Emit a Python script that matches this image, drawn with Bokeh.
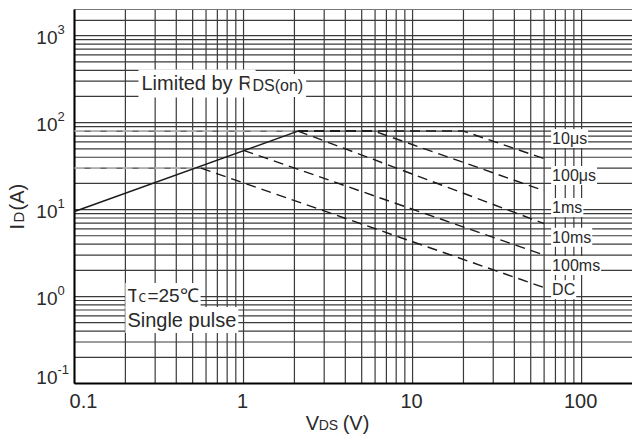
import math
from bokeh.plotting import figure
from bokeh.models import Label, Range1d
from bokeh.embed import file_html
from bokeh.resources import INLINE

# ---------------- data ----------------
# Limited by RDS(on) (solid)
rds_v = [0.1, 2.1]
rds_i = [9.5, 80.0]
# pulse / DC boundaries (dashed)
p10us_v = [2.1, 20.0, 60.0]
p10us_i = [80.0, 80.0, 38.5]
p100us_v = [2.1, 5.9, 60.0]
p100us_i = [80.0, 80.0, 16.5]
p1ms_v = [2.1, 60.0]
p1ms_i = [80.0, 6.9]
p10ms_v = [1.0, 60.0]
p10ms_i = [48.0, 3.0]
dc_v = [0.56, 60.0]
dc_i = [30.0, 1.27]
# dashed horizontal extensions to the left
ext80_v = [0.1, 2.1]
ext80_i = [80.0, 80.0]
ext30_v = [0.1, 0.56]
ext30_i = [30.0, 30.0]

curve_names = ["10μs", "100μs", "1ms", "10ms", "100ms", "DC"]
curve_name_i = [65.6, 24.7, 10.6, 4.8, 2.27, 1.2]

x_ticks = [0.1, 1, 10, 100]
x_tick_labels = ["0.1", "1", "10", "100"]
y_ticks = [0.1, 1, 10, 100, 1000]
y_tick_exps = ["-1", "0", "1", "2", "3"]

grid_mantissas = [1, 2, 3, 4, 5, 6, 7, 8, 9]
x_grid_decades = [0.1, 1, 10]
x_grid_extra = [100]
y_grid_decades = [0.1, 1, 10, 100]
y_grid_extra = [1000, 1500]

X_MIN, X_MAX = 0.1, 200.0
Y_MIN, Y_MAX = 0.1, 2000.0

# ---------------- layout (pixels) ----------------
W, H = 632, 437
LEFT, RIGHT, TOP, BOTTOM = 74, 632, 9, 383
FONT = "Liberation Sans"
TXT = "#2a2a2a"
GRID = "#3a3a3a"

xdec = (RIGHT - LEFT) / math.log10(X_MAX / X_MIN)
ydec = (BOTTOM - TOP) / math.log10(Y_MAX / Y_MIN)
x_lo = X_MIN / 10 ** (LEFT / xdec)
x_hi = X_MAX * 10 ** ((W - RIGHT) / xdec)
y_lo = Y_MIN / 10 ** ((H - BOTTOM) / ydec)
y_hi = Y_MAX * 10 ** (TOP / ydec)

x_grid = [m * d for d in x_grid_decades for m in grid_mantissas] + x_grid_extra
y_grid = [m * d for d in y_grid_decades for m in grid_mantissas] + y_grid_extra

p = figure(width=W, height=H, x_axis_type="log", y_axis_type="log",
           x_range=Range1d(x_lo, x_hi), y_range=Range1d(y_lo, y_hi),
           output_backend="svg", toolbar_location=None, title=None,
           x_axis_location=None, y_axis_location=None, min_border=0)
p.background_fill_color = "white"
p.border_fill_color = "white"
p.outline_line_color = None
p.grid.visible = False

# grid
p.segment(x0=x_grid, y0=[Y_MIN] * len(x_grid), x1=x_grid, y1=[Y_MAX] * len(x_grid),
          line_color=GRID, line_width=1.2)
p.segment(x0=[X_MIN] * len(y_grid), y0=y_grid, x1=[X_MAX] * len(y_grid), y1=y_grid,
          line_color=GRID, line_width=1.2)
# frame: top (grey), left and bottom (black, thick)
p.segment(x0=[X_MIN], y0=[Y_MAX], x1=[X_MAX], y1=[Y_MAX], line_color="#777777", line_width=1.2)
p.segment(x0=[X_MIN], y0=[Y_MIN], x1=[X_MIN], y1=[Y_MAX], line_color="black", line_width=2)
p.segment(x0=[X_MIN], y0=[Y_MIN], x1=[X_MAX], y1=[Y_MIN], line_color="black", line_width=2)

# curves
p.line(ext80_v, ext80_i, line_color="#c4c4c4", line_width=1.5, line_dash="10 6")
p.line(ext30_v, ext30_i, line_color="#c4c4c4", line_width=1.5, line_dash="10 6")
p.line(rds_v, rds_i, line_color="#1a1a1a", line_width=1.4)
for v, i in [(p10us_v, p10us_i), (p100us_v, p100us_i), (p1ms_v, p1ms_i),
             (p10ms_v, p10ms_i), (dc_v, dc_i)]:
    p.line(v, i, line_color="#1a1a1a", line_width=1.4, line_dash="10 6")


def lab(x, y, text, size, xo=0, yo=0, align="left", base="middle",
        bg=False, pad=0, angle=0.0):
    kw = dict(x=x, y=y, x_offset=xo, y_offset=yo, text=text, text_font=FONT,
              text_font_size=f"{size}px", text_color=TXT, text_align=align,
              text_baseline=base, angle=angle)
    if bg:
        kw.update(background_fill_color="white", padding=pad)
    p.add_layout(Label(**kw))


# curve labels
for name, ci in zip(curve_names, curve_name_i):
    lab(66, ci, name, 16, bg=True, pad=1)

# x tick labels
for v, t in zip(x_ticks, x_tick_labels):
    lab(v, Y_MIN, t, 20, xo=(9 if v == x_ticks[0] else -1), yo=-17, align="center")

# y tick labels 10^n
for k, (v, e) in enumerate(zip(y_ticks, y_tick_exps)):
    yo = 6 if k == 0 else -2
    lab(X_MIN, v, "10", 19, xo=-17, yo=yo, align="right")
    lab(X_MIN, v, e, 13, xo=-17, yo=yo + 8, align="left")

# axis titles
lab(2.33, Y_MIN, "V", 20, yo=-39)
lab(2.33, Y_MIN, "DS", 14, xo=13, yo=-41)
lab(2.33, Y_MIN, "(V)", 20, xo=37, yo=-39)

lab(X_MIN, 5.9, "I", 20, xo=-58, angle=math.pi / 2)
lab(X_MIN, 5.9, "D", 15, xo=-56, yo=7, angle=math.pi / 2)
lab(X_MIN, 5.9, "(A)", 20, xo=-58, yo=19, angle=math.pi / 2)

# annotations
lab(0.239, 282, "Limited by R", 20, bg=True, pad=3)
lab(0.239, 282, "DS(on)", 16, xo=111, yo=-2, bg=True, pad=3)

lab(0.2, 1.03, "T", 19, bg=True, pad=2)
lab(0.2, 1.03, "C", 13, xo=11, yo=-2, bg=True, pad=2)
lab(0.2, 1.03, "=25℃", 19, xo=20, bg=True, pad=2)
lab(0.2, 0.537, "Single pulse", 20, bg=True, pad=2)

open("out.html", "w").write(file_html(p, INLINE))
